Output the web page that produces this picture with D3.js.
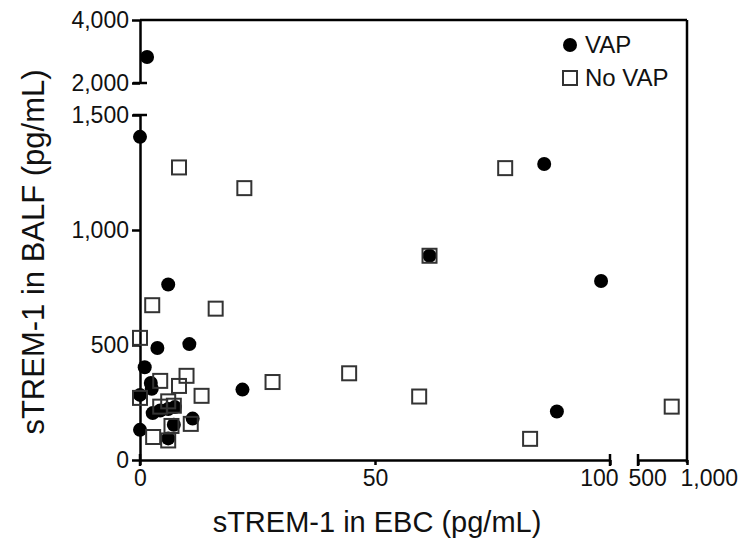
<!DOCTYPE html>
<html>
<head>
<meta charset="utf-8">
<script src="https://cdn.jsdelivr.net/npm/d3@7"></script>
<style>
  html, body { margin: 0; padding: 0; background: #fff; }
  svg text { font-family: "Liberation Sans", Arial, sans-serif; fill: #111; }
</style>
</head>
<body>
<svg id="chart" width="750" height="546"></svg>
<script>
// ---- data ----
const vapX = [1.5, 0, 86, 98.1, 61.6, 6, 10.5, 3.7, 1.0, 21.8, 88.7, 2.3, 2.5, 0, 2.7, 4.3, 6, 7.4, 0, 6, 7.2, 11.2];
const vapY = [2825, 1405, 1287, 778, 888, 763, 504, 487, 403, 306, 211, 335, 310, 283, 204, 215, 222, 230, 131, 94, 153, 180];
const noVapX = [8.3, 22.2, 77.7, 61.6, 2.6, 16.1, 0, 4.3, 9.9, 8.3, 0, 13.1, 28.2, 44.5, 59.4, 83, 844, 4.3, 6, 7.2, 2.8, 6, 6.7, 10.8];
const noVapY = [1272, 1182, 1269, 888, 673, 658, 531, 344, 366, 322, 270, 279, 339, 377, 276, 92, 232, 232, 255, 236, 100, 85, 148, 157];
const xMainTicks = [0, 50, 100];
const xBreakTicks = [500, 1000];
const yLowTicks = [0, 500, 1000, 1500];
const yUpTicks = [2000, 4000];
const seriesNames = ["VAP", "No VAP"];
const xTitle = "sTREM-1 in EBC (pg/mL)";
const yTitle = "sTREM-1 in BALF (pg/mL)";

// ---- scales (broken axes) ----
const xMain = d3.scaleLinear().domain([0, 100]).range([140, 610]);
const xBreak = d3.scaleLinear().domain([500, 1000]).range([638, 687]);
const yLow = d3.scaleLinear().domain([0, 1500]).range([460, 115]);
const yUp = d3.scaleLinear().domain([2000, 4000]).range([83, 20]);
const px = v => v > 100 ? xBreak(v) : xMain(v);
const py = v => v > 1500 ? yUp(v) : yLow(v);
const fmt = d3.format(",");

const svg = d3.select("#chart");
const SW = 2.5;
const tickFont = "23px";

function styleAxis(g) {
  g.select(".domain").attr("stroke", "#000").attr("stroke-width", SW);
  g.selectAll(".tick line").attr("stroke", "#000").attr("stroke-width", SW);
  g.selectAll(".tick text").style("font-size", tickFont).attr("fill", "#111")
    .style("font-family", '"Liberation Sans", Arial, sans-serif');
}
function cap(x1, y1, x2, y2) {
  svg.append("line").attr("x1", x1).attr("y1", y1).attr("x2", x2).attr("y2", y2)
    .attr("stroke", "#000").attr("stroke-width", SW);
}

// lower y axis
const gYL = svg.append("g").attr("transform", "translate(140,0)")
  .call(d3.axisLeft(yLow).tickValues(yLowTicks).tickFormat(fmt).tickSize(8).tickSizeOuter(0).tickPadding(3));
styleAxis(gYL);
cap(133, yLow(1500), 147, yLow(1500));

// upper y axis
const gYU = svg.append("g").attr("transform", "translate(140,0)")
  .call(d3.axisLeft(yUp).tickValues(yUpTicks).tickFormat(fmt).tickSize(8).tickSizeOuter(0).tickPadding(3));
styleAxis(gYU);
cap(133, yUp(2000), 147, yUp(2000));

// frame: top and right
cap(140, yUp(4000), xBreak(1000), yUp(4000));
cap(xBreak(1000), yUp(4000), xBreak(1000), yLow(0) + 3);

// main x axis
const gXM = svg.append("g").attr("transform", `translate(0,${yLow(0)})`)
  .call(d3.axisBottom(xMain).tickValues(xMainTicks).tickFormat(fmt).tickSize(5).tickSizeOuter(0).tickPadding(5));
styleAxis(gXM);
gXM.selectAll(".tick text").filter(d => d === 100).attr("text-anchor", "end").attr("x", 8);
cap(xMain(0), yLow(0) - 6, xMain(0), yLow(0) + 6);
cap(xMain(100), yLow(0) - 6, xMain(100), yLow(0) + 6);

// broken x axis
const gXB = svg.append("g").attr("transform", `translate(0,${yLow(0)})`)
  .call(d3.axisBottom(xBreak).tickValues(xBreakTicks).tickFormat(fmt).tickSize(5).tickSizeOuter(0).tickPadding(5));
styleAxis(gXB);
gXB.selectAll(".tick text").attr("text-anchor", "start").attr("x", d => d === 500 ? -10 : -7);
cap(xBreak(500), yLow(0) - 6, xBreak(500), yLow(0) + 6);

// ---- points ----
const vap = vapX.map((x, i) => ({ x, y: vapY[i] }));
const novap = noVapX.map((x, i) => ({ x, y: noVapY[i] }));
const SQ = 14;

svg.append("g").selectAll("circle").data(vap).join("circle")
  .attr("cx", d => px(d.x)).attr("cy", d => py(d.y)).attr("r", 7).attr("fill", "#000");

svg.append("g").selectAll("rect").data(novap).join("rect")
  .attr("x", d => px(d.x) - SQ / 2).attr("y", d => py(d.y) - SQ / 2)
  .attr("width", SQ).attr("height", SQ)
  .attr("fill", "none").attr("stroke", "#333").attr("stroke-width", 2);

// ---- legend ----
const lg = svg.append("g");
lg.append("circle").attr("cx", 570).attr("cy", 45).attr("r", 7).attr("fill", "#000");
lg.append("text").attr("x", 585).attr("y", 53).style("font-size", "24px").text(seriesNames[0]);
lg.append("rect").attr("x", 563).attr("y", 71).attr("width", SQ).attr("height", SQ)
  .attr("fill", "none").attr("stroke", "#333").attr("stroke-width", 2);
lg.append("text").attr("x", 585).attr("y", 86).style("font-size", "24px").text(seriesNames[1]);

// ---- titles ----
svg.append("text").attr("x", 377).attr("y", 532).attr("text-anchor", "middle")
  .style("font-size", "29px").text(xTitle);
svg.append("text").attr("transform", "translate(44,252) rotate(-90)").attr("text-anchor", "middle")
  .style("font-size", "31px").text(yTitle);
</script>
</body>
</html>
